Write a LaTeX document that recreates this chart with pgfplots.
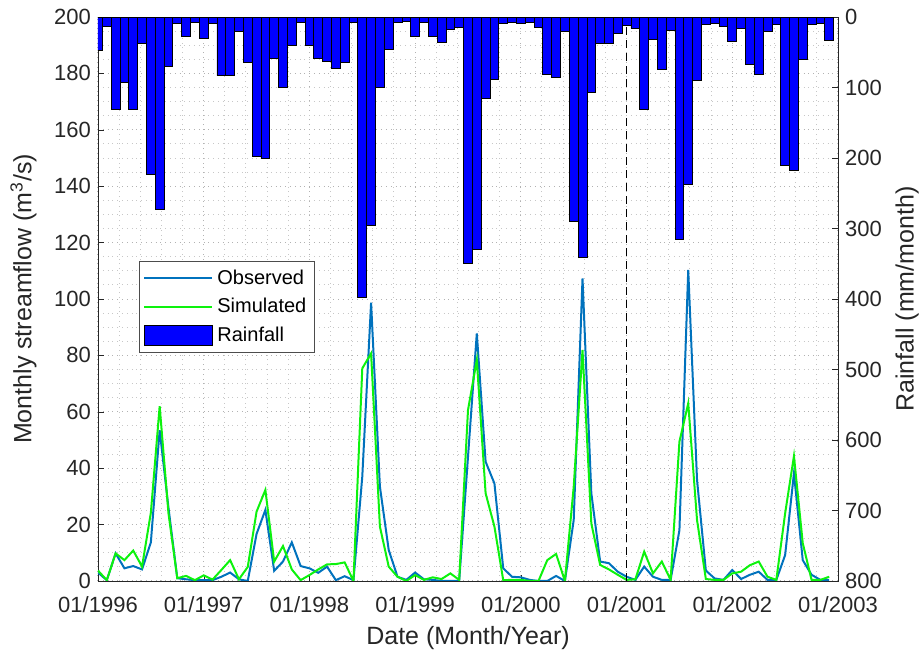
\documentclass[border=0pt]{standalone}
\usepackage{pgfplots}
\pgfplotsset{compat=1.18}
\usepackage{pgfplotstable}
\usepackage{fontspec}
\setmainfont{Liberation Sans}
\definecolor{obs}{rgb}{0,0.447,0.741}
\definecolor{sim}{rgb}{0.05,0.95,0.05}
\definecolor{rain}{rgb}{0,0,1}

\pgfplotstableread{
i rain obs sim
0 47 3 3.7
1 14 0.3 0.3
2 131 9.8 9.8
3 93 4.5 7.4
4 131 5.3 10.8
5 37 4.1 5.1
6 223 13.7 24.2
7 273 53.5 62
8 70 26 24
9 9 1 1
10 28 0.6 1.8
11 8 0.3 0.3
12 30 0.3 2
13 9 0.3 0.5
14 83 1.5 3.9
15 83 3 7.4
16 21 0.6 0.6
17 64 0 5
18 198 16.7 24.6
19 201 25.2 32.3
20 59 3.6 6.9
21 100 6.9 12.4
22 40 13.7 4.1
23 8 5.3 0.3
24 40 4.5 2.1
25 59 2.9 4.1
26 63 5.1 5.9
27 73 0.3 6
28 65 1.7 6.6
29 8 0.3 0
30 398 37 75.4
31 296 98.7 80.7
32 100 33.5 19.3
33 46 11 5.1
34 8 1.5 1.5
35 6 0.4 0
36 28 3 2.1
37 8 0.6 0.4
38 28 0.4 1.3
39 36 0 0.7
40 17 0 2.7
41 15 0 0.4
42 349 44 60.6
43 330 87.8 78.4
44 116 42.3 31.1
45 89 34.6 19.3
46 9 4.5 0.3
47 8 1.5 0.4
48 9 1.3 0.4
49 8 0.4 0
50 15 0 0
51 82 0 7.4
52 86 1.8 9.6
53 21 0 0
54 290 21.6 33.4
55 341 107.3 81.9
56 107 31.1 20.4
57 38 6.9 5.7
58 37 6.3 4.1
59 23 3.3 2.2
60 12 1.5 0.4
61 16 0.4 0.6
62 131 5.1 10.4
63 32 1.5 2.7
64 74 0.4 6.9
65 19 0.4 0.4
66 315 18 49.4
67 238 110.3 63
68 90 35.8 21.6
69 11 3.7 0.7
70 9 0.9 0.4
71 13 0.4 0.4
72 34 3.9 2.7
73 16 0.7 3.3
74 67 2.2 5.6
75 81 3.3 6.9
76 21 0.4 1.5
77 11 0.4 0.4
78 210 9.2 24
79 218 38.2 44.3
80 60 7.4 13.4
81 11 2.2 0.4
82 9 0.4 0.4
83 33 0.4 1.5
}\datatable

\begin{document}
\begin{tikzpicture}
\useasboundingbox (-49pt,-36.5pt) rectangle (412.5pt,290.5pt);
\begin{axis}[
  at={(0,0)}, anchor=south west,
  scale only axis, width=370pt, height=282pt,
  xmin=0, xmax=84, ymin=0, ymax=200,
  xtick={0,12,...,84},
  xticklabels={01/1996,01/1997,01/1998,01/1999,01/2000,01/2001,01/2002,01/2003},
  minor x tick num=4,
  ytick={0,20,...,200}, minor y tick num=3,
  grid=both,
  major grid style={black!30, dotted, line width=0.5pt},
  minor grid style={black!22, dotted, line width=0.5pt},
  tick align=inside, ytick pos=left, xtick pos=bottom,
  major tick length=3pt, minor tick length=0pt,
  axis line style={black!85},
  tick style={black!85},
  /pgf/number format/assume math mode=true,
  ticklabel style={font=\fontsize{11}{13}\selectfont, black!85},
  xticklabel style={yshift=-4pt},
  label style={font=\fontsize{12.5}{15}\selectfont, black!85},
  xlabel={Date (Month/Year)},
  ylabel={Monthly streamflow (m\textsuperscript{3}/s)},
  ylabel shift=2pt,
  legend style={at={(0.0554,0.567)}, anchor=north west, draw=black!70,
    font=\fontsize{10}{12}\selectfont, inner sep=2pt, row sep=1.5pt,
    fill=white},
  legend cell align=left,
  legend image code/.code={\draw[#1] (0pt,0pt) -- (34pt,0pt);},
]
\addplot[obs, line width=1pt] table[x=i, y=obs] {\datatable};
\addlegendentry{Observed}
\addplot[sim, line width=1pt] table[x=i, y=sim] {\datatable};
\addlegendentry{Simulated}
\addlegendimage{legend image code/.code={\draw[fill=rain,draw=black,line width=0.5pt] (0pt,-5pt) rectangle (34pt,5pt);}}
\addlegendentry{Rainfall}
\addplot[black, line width=0.7pt, dash pattern=on 4pt off 2.5pt, forget plot] coordinates {(60,0) (60,200)};
\end{axis}
\begin{axis}[
  at={(0,0)}, anchor=south west,
  scale only axis, width=370pt, height=282pt,
  xmin=0, xmax=84, ymin=0, ymax=800,
  y dir=reverse,
  axis y line*=right, axis x line=none,
  ytick={0,100,...,800},
  tick align=inside, major tick length=3pt,
  axis line style={black!85},
  tick style={black!85},
  /pgf/number format/assume math mode=true,
  ticklabel style={font=\fontsize{11}{13}\selectfont, black!85},
  label style={font=\fontsize{12.5}{15}\selectfont, black!85},
  ylabel={Rainfall (mm/month)},
  ybar, bar width=1,
]
\addplot[fill=rain, draw=black, line width=0.4pt] table[x=i, y=rain] {\datatable};
\end{axis}
\end{tikzpicture}
\end{document}
